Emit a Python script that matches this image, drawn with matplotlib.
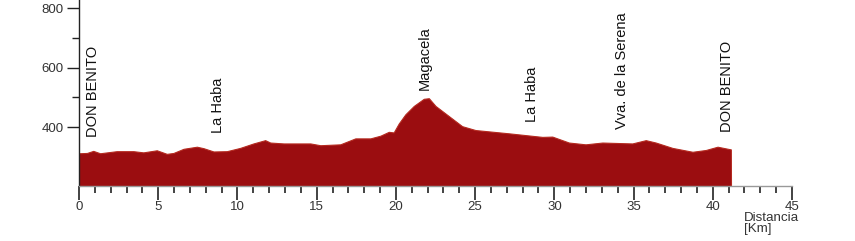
import matplotlib
matplotlib.use("Agg")
import matplotlib.pyplot as plt
from matplotlib.ticker import MultipleLocator

plt.rcParams['font.family'] = ['Liberation Sans', 'DejaVu Sans']

# Profile data (distance km, elevation m)
km = [0.0, 0.5, 0.9, 1.33, 2.38, 3.43, 4.06, 4.91, 5.54, 5.96, 6.6, 7.44, 7.86,
      8.49, 9.33, 10.17, 11.01, 11.75, 12.07, 12.91, 14.6, 15.23, 16.49, 17.44,
      18.39, 19.02, 19.55, 19.86, 20.18, 20.6, 21.13, 21.76, 22.08, 22.5, 23.34,
      24.18, 25.02, 27.13, 29.24, 29.87, 30.92, 31.97, 33.03, 34.92, 35.77,
      36.4, 37.45, 38.72, 39.56, 40.3, 41.14, 41.15]
elev = [312, 313, 320, 312, 319, 319, 315, 322, 310, 313, 327, 334, 329,
        318, 319, 330, 345, 356, 348, 345, 345, 339, 342, 362,
        362, 371, 384, 382, 412, 443, 471, 495, 497, 471, 437,
        403, 390, 379, 367, 368, 348, 342, 348, 345, 356,
        348, 330, 317, 323, 334, 325, 202]

# Place labels: (km, elevation of label start, text)
place_km = [0.9, 8.8, 21.8, 28.6, 34.3, 40.9]
place_y = [366, 380, 524, 417, 393, 383]
place_names = ["DON BENITO", "La Haba", "Magacela", "La Haba",
               "Vva. de la Serena", "DON BENITO"]

xticks_major = [0, 5, 10, 15, 20, 25, 30, 35, 40, 45]
yticks_major = [400, 600, 800]

fig = plt.figure(figsize=(8.55, 2.41), dpi=100)
ax = fig.add_axes([79/855, 1 - 186/241, (792 - 79)/855, 186/241])

ax.fill_between(km, elev, 202, color='#9b0d10', edgecolor='#b52a20',
                linewidth=0.8, zorder=2)

ax.set_xlim(0, 45)
ax.set_ylim(202, 827)

for s in ['top', 'right']:
    ax.spines[s].set_visible(False)
ax.spines['left'].set_color('#222222')
ax.spines['left'].set_linewidth(1.0)
ax.spines['bottom'].set_color('#999999')
ax.spines['bottom'].set_linewidth(1.0)

ax.set_xticks(xticks_major)
ax.xaxis.set_minor_locator(MultipleLocator(1))
ax.set_yticks(yticks_major)
ax.set_yticks([500, 700], minor=True)

ax.tick_params(axis='x', which='major', length=10, width=1.2, color='#222222',
               labelsize=9.5, labelcolor='#333333', pad=0.5)
ax.tick_params(axis='x', which='minor', length=5, width=1.2, color='#222222')
ax.tick_params(axis='y', which='major', length=9, width=1.0, color='#222222',
               labelsize=9.5, labelcolor='#333333', pad=2)
ax.tick_params(axis='y', which='minor', length=5, width=1.0, color='#222222')

for x, y, t in zip(place_km, place_y, place_names):
    ax.text(x, y, t, rotation=90, ha='center', va='bottom',
            fontsize=10.5, color='#111111', zorder=3)

fig.text(744/855, 1 - 212/241, "Distancia\n[Km]", ha='left', va='top',
         fontsize=9.6, color='#333333', linespacing=0.9)

fig.savefig("out.png", dpi=100, facecolor='white')
